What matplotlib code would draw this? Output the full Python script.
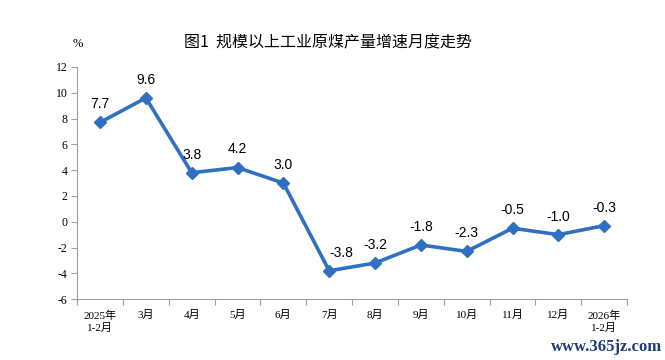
import matplotlib
matplotlib.use("Agg")
import matplotlib.pyplot as plt

# categories and values
months = ["2025年\n1-2月", "3月", "4月", "5月", "6月", "7月", "8月", "9月",
          "10月", "11月", "12月", "2026年\n1-2月"]
growth = [7.7, 9.6, 3.8, 4.2, 3.0, -3.8, -3.2, -1.8, -2.3, -0.5, -1.0, -0.3]
yticks = [-6, -4, -2, 0, 2, 4, 6, 8, 10, 12]

cjk = ["Noto Sans CJK SC", "DejaVu Sans"]
serif = ["Liberation Serif", "Noto Sans CJK SC"]

fig = plt.figure(figsize=(6.65, 3.6), dpi=100)
ax = fig.add_axes([0.116, 0.169, 0.827, 0.645])

x = list(range(len(months)))
ax.plot(x, growth, color="#2F70C2", lw=2.6, marker="D", ms=6, zorder=3)

for xi, v in zip(x, growth):
    dx = 9 if v == -3.8 else 0  # this one sits right of the steep drop
    ax.annotate(f"{v:.1f}", (xi, v), xytext=(dx, 8), textcoords="offset points",
                ha="center", va="bottom", fontsize=10, family="Liberation Sans")

ax.set_xlim(-0.5, len(months) - 0.5)
ax.set_ylim(-6, 12)
ax.set_yticks(yticks)
ax.set_yticklabels([str(t) for t in yticks], family=serif, fontsize=8.5)

# ticks between categories, labels centred
ax.set_xticks([i - 0.5 for i in range(len(months) + 1)])
ax.set_xticklabels([])
ax.set_xticks(x, minor=True)
ax.set_xticklabels(months, minor=True, family=serif, fontsize=8, linespacing=1.3)
ax.tick_params(axis="x", which="minor", length=0, pad=8)
ax.tick_params(axis="x", which="major", length=4, color="#A0A0A0")
ax.tick_params(axis="y", length=4, color="#A0A0A0", pad=3)

for s in ["top", "right"]:
    ax.spines[s].set_visible(False)
for s in ["left", "bottom"]:
    ax.spines[s].set_color("#A0A0A0")

fig.text(0.493, 0.88, "图1  规模以上工业原煤产量增速月度走势", ha="center", va="center",
         fontsize=11.5, family=cjk)
fig.text(0.117, 0.878, "%", ha="center", va="center", fontsize=9, family=serif)
fig.text(0.995, 0.035, "www.365jz.com", ha="right", va="center", fontsize=12,
         family="Liberation Serif", color="#1F3C78", weight="bold")

fig.savefig("out.png", dpi=100)
